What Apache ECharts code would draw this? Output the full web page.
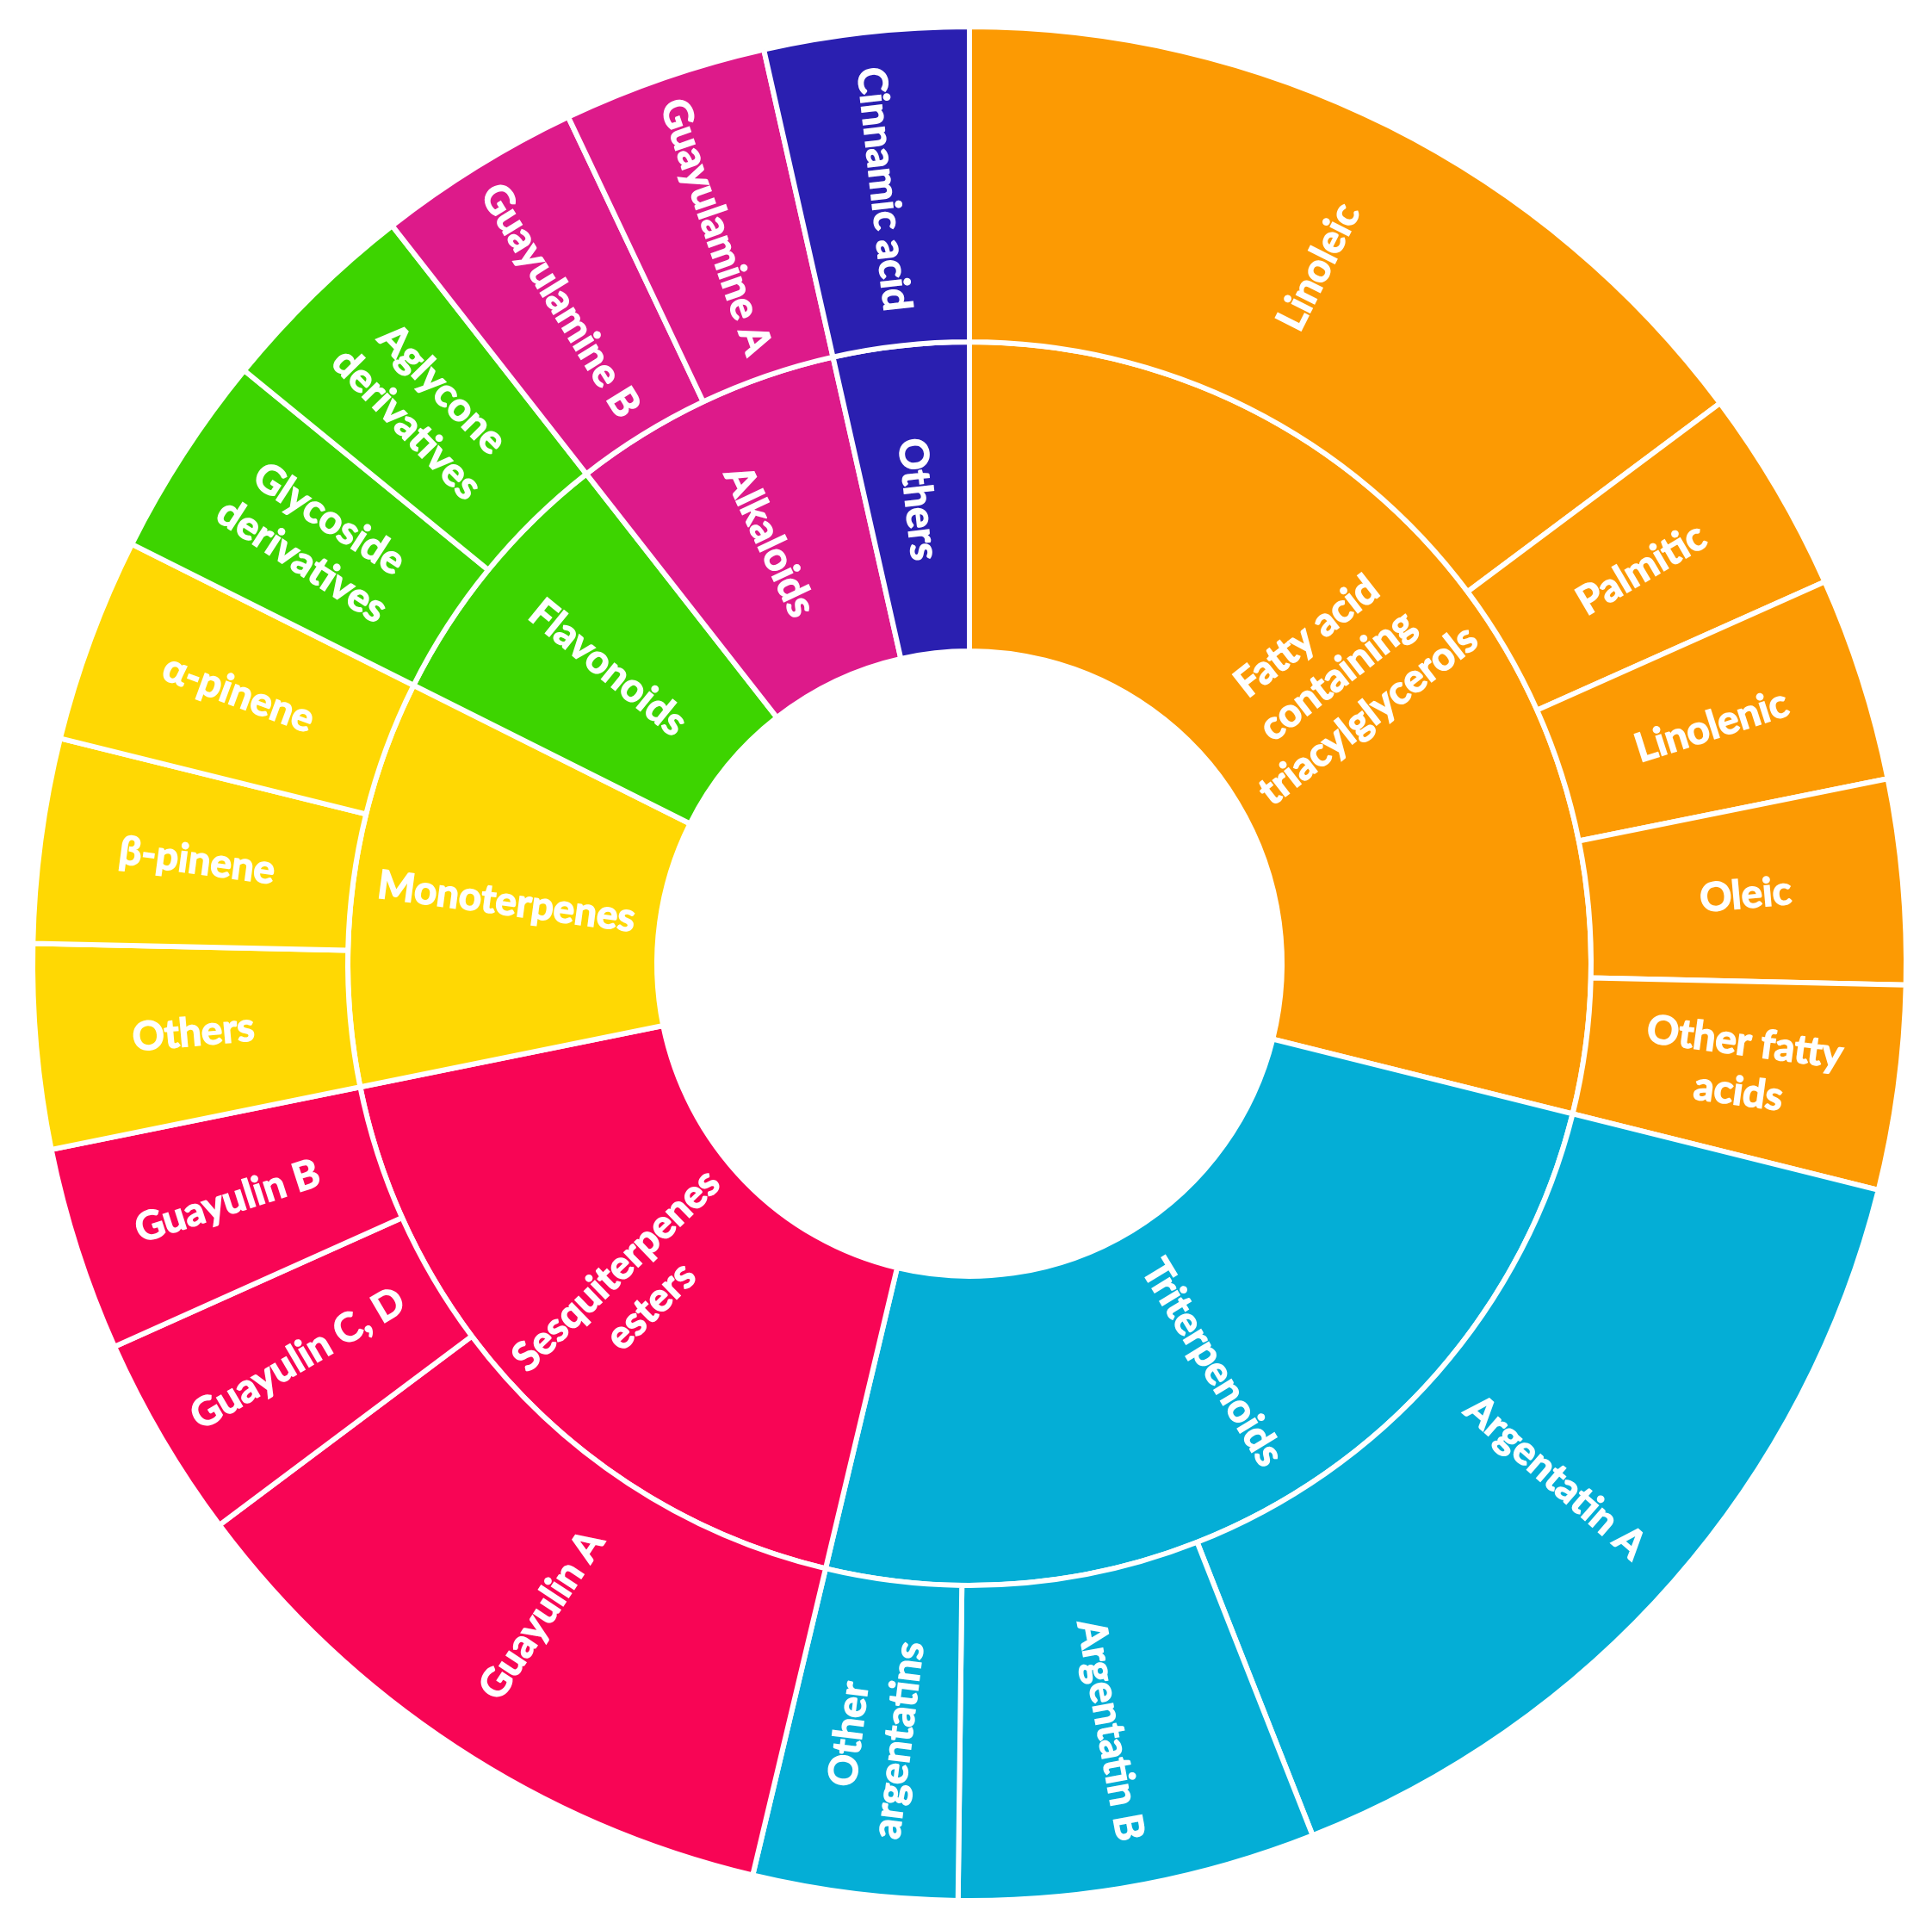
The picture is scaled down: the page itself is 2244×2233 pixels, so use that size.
<!DOCTYPE html>
<html>
<head>
<meta charset="utf-8">
<script src="https://cdn.jsdelivr.net/npm/echarts@6/dist/echarts.min.js"></script>
<style>
html,body{margin:0;padding:0;background:#fff;}
#chart{width:2244px;height:2233px;}
</style>
</head>
<body>
<div id="chart"></div>
<script>
// Inner ring categories
const categories = ['Fatty acid\ncontaining\ntriacylglycerols', 'Triterpenoids', 'Sesquiterpenes\nesters', 'Monoterpenes', 'Flavonoids', 'Alkaloids', 'Others'];
const categoryColors = ['#FC9A03', '#04AED6', '#F80555', '#FFD803', '#3DD400', '#DD1A8A', '#2A1FB0'];

// Outer ring: children of each category (names and estimated relative values)
const fattyAcidNames = ['Linoleic', 'Palmitic', 'Linolenic', 'Oleic', 'Other fatty\nacids'];
const fattyAcidValues = [4.2, 1, 1, 1, 1];
const triterpenoidNames = ['Argentatin A', 'Argentatin B', 'Other\nargentatins'];
const triterpenoidValues = [4.3, 1.75, 1];
const sesquiterpeneNames = ['Guayulin A', 'Guayulin C, D', 'Guayulin B'];
const sesquiterpeneValues = [3.14, 1, 1];
const monoterpeneNames = ['Others', 'β-pinene', 'α-pinene'];
const monoterpeneValues = [1, 1, 1];
const flavonoidNames = ['Glycoside\nderivatives', 'Aglycone\nderivatives'];
const flavonoidValues = [1, 1];
const alkaloidNames = ['Guayulamine B', 'Guayulamine A'];
const alkaloidValues = [1, 1];
const otherNames = ['Cinnamic acid'];
const otherValues = [1];

const childNames = [fattyAcidNames, triterpenoidNames, sesquiterpeneNames, monoterpeneNames, flavonoidNames, alkaloidNames, otherNames];
const childValues = [fattyAcidValues, triterpenoidValues, sesquiterpeneValues, monoterpeneValues, flavonoidValues, alkaloidValues, otherValues];

const data = categories.map((name, i) => ({
  name: name,
  itemStyle: { color: categoryColors[i] },
  children: childNames[i].map((cn, j) => ({
    name: cn,
    value: childValues[i][j],
    itemStyle: { color: categoryColors[i] }
  }))
}));

const chart = echarts.init(document.getElementById('chart'), null, { renderer: 'canvas' });
chart.setOption({
  animation: false,
  series: [{
    type: 'sunburst',
    center: [1126, 1119],
    sort: null,
    startAngle: 90,
    clockwise: true,
    nodeClick: false,
    data: data,
    emphasis: { disabled: true },
    itemStyle: { borderColor: '#ffffff', borderWidth: 6 },
    label: {
      rotate: 'radial',
      color: '#ffffff',
      fontFamily: 'Lato',
      fontWeight: 'bold',
      fontSize: 46,
      lineHeight: 58,
      align: 'center',
      overflow: 'none',
      textBorderColor: '#ffffff',
      textBorderWidth: 1.5
    },
    levels: [
      {},
      { r0: 363, r: 722 },
      { r0: 722, r: 1088 }
    ]
  }]
});
</script>
</body>
</html>
